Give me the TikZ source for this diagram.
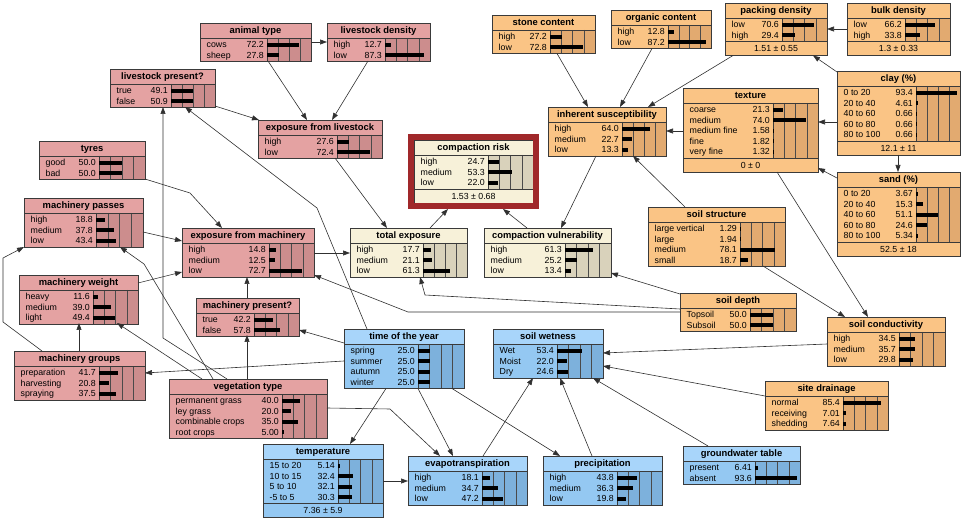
\documentclass[tikz,border=0pt]{standalone}
\usepackage{fontspec}
\setmainfont{Liberation Sans}
\usetikzlibrary{arrows.meta,calc}

\definecolor{pinkT}{HTML}{E4A2A2}
\definecolor{pinkB}{HTML}{E4A2A2}
\definecolor{pinkR}{HTML}{CC8D8D}
\definecolor{orangeT}{HTML}{FAC485}
\definecolor{orangeB}{HTML}{FAC485}
\definecolor{orangeR}{HTML}{E2AA70}
\definecolor{blueT}{HTML}{A8D5FA}
\definecolor{blueB}{HTML}{94C8F2}
\definecolor{blueR}{HTML}{7DB1DC}
\definecolor{creamT}{HTML}{F7F1D9}
\definecolor{creamB}{HTML}{F7F1D9}
\definecolor{creamR}{HTML}{D9D2BB}
\definecolor{bordc}{HTML}{3A3A3A}
\definecolor{gridc}{HTML}{4A4A4A}
\definecolor{edgec}{HTML}{303030}
\definecolor{riskc}{HTML}{A0282A}

\tikzset{
  bnborder/.style={draw=bordc, line width=0.6pt},
  gridline/.style={draw=gridc, line width=0.5pt},
  titletext/.style={font=\bfseries\fontsize{9.4}{10}\selectfont, inner sep=0pt},
  statetext/.style={font=\fontsize{8.8}{10}\selectfont, inner sep=0pt},
  bnframe/.style={draw=bordc, line width=0.7pt, inner sep=0pt, outer sep=0pt},
  arr/.style={draw=edgec, line width=0.6pt, -{Triangle[length=7pt,width=5pt]}},
  riskframe/.style={draw=riskc, line width=5.5pt},
}

% #1 name, #2 scheme, #3 x,y, #4 width, #5 bar offset, #6 nrows, #7 title, #8 rows, #9 mean
\newcommand{\bn}[9]{%
  \begingroup
  \def\bnmean{#9}%
  \ifx\bnmean\empty \def\bnextra{0}\else \def\bnextra{14}\fi
  \pgfmathsetmacro{\bnRB}{15+10.5*#6+2.5}%
  \pgfmathsetmacro{\bnH}{\bnRB+\bnextra}%
  \pgfmathsetmacro{\bnW}{#4}%
  \pgfmathsetmacro{\bnB}{#5}%
  \pgfmathsetmacro{\bnBW}{#4-#5}%
  \begin{scope}[shift={(#3)}]
    \fill[#2B] (0,0) rectangle (\bnW,\bnH);
    \fill[#2T] (0,0) rectangle (\bnW,15);
    \fill[#2R] (\bnB,15) rectangle (\bnW,\bnRB);
    \foreach \gf in {0.25,0.5,0.75}
      \draw[gridline] ({\bnB+\gf*\bnBW},15) -- ({\bnB+\gf*\bnBW},\bnRB);
    \draw[bnborder] (0,15) -- (\bnW,15);
    \draw[bnborder] (\bnB,15) -- (\bnB,\bnRB);
    \ifx\bnmean\empty\else
      \draw[bnborder] (0,\bnRB) -- (\bnW,\bnRB);
      \node[statetext, anchor=base] at ({\bnW/2},{\bnRB+10.3}) {#9};
    \fi
    \node[titletext, anchor=base] at ({\bnW/2},10.9) {#7};
    \foreach \sLab/\sVal [count=\sI] in {#8} {
      \pgfmathsetmacro{\yy}{15+1.5+10.5*(\sI-0.5)}
      \node[statetext, anchor=base west] at (6.5,\yy+3.2) {\sLab};
      \node[statetext, anchor=base east] at (\bnB-3,\yy+3.2) {\sVal};
      \fill[black] (\bnB,\yy-2.2) rectangle ({\bnB+\sVal/100*\bnBW},\yy+2.2);
    }
    \node[bnframe, minimum width=\bnW pt, minimum height=\bnH pt, anchor=north west] (#1) at (0,0) {};
  \end{scope}
  \endgroup
}

\begin{document}
\begin{tikzpicture}[x=1pt,y=-1pt]
\useasboundingbox (0,0) rectangle (964,521);

% pink nodes
\bn{animal}{pink}{200,23}{111}{67}{2}{animal type}{cows/72.2, sheep/27.8}{}
\bn{density}{pink}{327,23}{103}{58}{2}{livestock density}{high/12.7, low/87.3}{}
\bn{lpresent}{pink}{110,69}{105}{61}{2}{livestock present?}{true/49.1, false/50.9}{}
\bn{explive}{pink}{258,120}{124}{79}{2}{exposure from livestock}{high/27.6, low/72.4}{}
\bn{tyres}{pink}{39,141}{106}{60}{2}{tyres}{good/50.0, bad/50.0}{}
\bn{passes}{pink}{24,198}{119}{72}{3}{machinery passes}{high/18.8, medium/37.8, low/43.4}{}
\bn{expmach}{pink}{182,228}{132}{87}{3}{exposure from machinery}{high/14.8, medium/12.5, low/72.7}{}
\bn{weight}{pink}{19,275}{119}{74}{3}{machinery weight}{heavy/11.6, medium/39.0, light/49.4}{}
\bn{mpresent}{pink}{196,298}{103}{58}{2}{machinery present?}{true/42.2, false/57.8}{}
\bn{groups}{pink}{14,351}{131}{85}{3}{machinery groups}{preparation/41.7, harvesting/20.8, spraying/37.5}{}
\bn{veg}{pink}{169,379}{158}{113}{4}{vegetation type}{permanent grass/40.0, ley grass/20.0, combinable crops/35.0, root crops/5.00}{}

% blue nodes
\bn{tyear}{blue}{344,329}{120}{74}{4}{time of the year}{spring/25.0, summer/25.0, autumn/25.0, winter/25.0}{}
\bn{wetness}{blue}{493,329}{110}{64}{3}{soil wetness}{Wet/53.4, Moist/22.0, Dry/24.6}{}
\bn{temp}{blue}{263,444}{120}{75}{4}{temperature}{15 to 20/5.14, 10 to 15/32.4, 5 to 10/32.1, -5 to 5/30.3}{7.36 ± 5.9}
\bn{evapo}{blue}{408,456}{119}{74}{3}{evapotranspiration}{high/18.1, medium/34.7, low/47.2}{}
\bn{precip}{blue}{543,456}{119}{74}{3}{precipitation}{high/43.8, medium/36.3, low/19.8}{}
\bn{gwt}{blue}{683,446}{117}{72}{2}{groundwater table}{present/6.41, absent/93.6}{}

% orange nodes
\bn{drainage}{orange}{765,381}{123}{78}{3}{site drainage}{normal/85.4, receiving/7.01, shedding/7.64}{}
\bn{conduct}{orange}{827,317}{118}{72}{3}{soil conductivity}{high/34.5, medium/35.7, low/29.8}{}
\bn{depth}{orange}{680,293}{116}{70}{2}{soil depth}{Topsoil/50.0, Subsoil/50.0}{}
\bn{structure}{orange}{648,207}{137}{92}{4}{soil structure}{large vertical/1.29, large/1.94, medium/78.1, small/18.7}{}
\bn{sand}{orange}{837,172}{123}{79}{5}{sand (\%)}{0 to 20/3.67, 20 to 40/15.3, 40 to 60/51.1, 60 to 80/24.6, 80 to 100/5.34}{52.5 ± 18}
\bn{clay}{orange}{837,71}{123}{79}{5}{clay (\%)}{0 to 20/93.4, 20 to 40/4.61, 40 to 60/0.66, 60 to 80/0.66, 80 to 100/0.66}{12.1 ± 11}
\bn{texture}{orange}{683,88}{135}{90}{5}{texture}{coarse/21.3, medium/74.0, medium fine/1.58, fine/1.82, very fine/1.32}{0 ± 0}
\bn{inherent}{orange}{548,107}{118}{74}{3}{inherent susceptibility}{high/64.0, medium/22.7, low/13.3}{}
\bn{stone}{orange}{492,15}{103}{58}{2}{stone content}{high/27.2, low/72.8}{}
\bn{organic}{orange}{611,10}{100}{57}{2}{organic content}{high/12.8, low/87.2}{}
\bn{packing}{orange}{725,3}{102}{57}{2}{packing density}{low/70.6, high/29.4}{1.51 ± 0.55}
\bn{bulk}{orange}{847,3}{103}{58}{2}{bulk density}{low/66.2, high/33.8}{1.3 ± 0.33}

% cream nodes
\bn{totexp}{cream}{350,228}{117}{73}{3}{total exposure}{high/17.7, medium/21.1, low/61.3}{}
\bn{vuln}{cream}{484,228}{127}{81}{3}{compaction vulnerability}{high/61.3, medium/25.2, low/13.4}{}
\bn{risk}{cream}{414,140}{119}{74}{3}{compaction risk}{high/24.7, medium/53.3, low/22.0}{1.53 ± 0.68}
\draw[riskframe] ($(risk.north west)+(-3,-3)$) rectangle ($(risk.south east)+(3,3)$);

% bend points
\coordinate (b5) at (317,208);
\coordinate (b6) at (163,338);
\coordinate (b7) at (144,264);
\coordinate (b12a) at (3,322);
\coordinate (b12b) at (3,258);
\coordinate (b15) at (190,193);
\coordinate (b25) at (425,295);
\coordinate (b26) at (408,312);
\coordinate (b37) at (390,409);

% connectors
\draw[arr] ($(animal.north west)+(111,19)$) -- ($(density.north west)+(0,19)$);
\draw[arr] ($(animal.north west)+(68,38)$) -- ($(explive.north west)+(49,0)$);
\draw[arr] ($(density.north west)+(41,38)$) -- ($(explive.north west)+(74,0)$);
\draw[arr] ($(lpresent.north west)+(105,37)$) -- ($(explive.north west)+(1,0)$);
\draw[arr] ($(tyear.north west)+(23,0)$) -- (b5) -- ($(lpresent.north west)+(75,38)$);
\draw[arr] ($(veg.north west)+(58,0)$) -- (b6) -- ($(lpresent.north west)+(53,38)$);
\draw[arr] ($(veg.north west)+(44,0)$) -- (b7) -- ($(passes.north west)+(96,49)$);
\draw[arr] ($(veg.north west)+(33,0)$) -- ($(weight.north west)+(98,48)$);
\draw[arr] ($(veg.north west)+(78,0)$) -- ($(mpresent.north west)+(51,37)$);
\draw[arr] ($(mpresent.north west)+(51,0)$) -- ($(expmach.north west)+(65,49)$);
\draw[arr] ($(groups.north west)+(65,0)$) -- ($(weight.north west)+(60,48)$);
\draw[arr] ($(groups.north west)+(28,0)$) -- (b12a) -- (b12b) -- ($(passes.north west)+(0,49)$);
\draw[arr] ($(tyear.north west)+(0,14)$) -- ($(mpresent.north west)+(103,32)$);
\draw[arr] ($(tyear.north west)+(0,32)$) -- ($(groups.north west)+(131,22)$);
\draw[arr] ($(tyres.north west)+(106,38)$) -- (b15) -- ($(expmach.north west)+(40,0)$);
\draw[arr] ($(passes.north west)+(119,34)$) -- ($(expmach.north west)+(0,13)$);
\draw[arr] ($(weight.north west)+(119,8)$) -- ($(expmach.north west)+(0,44)$);
\draw[arr] ($(explive.north west)+(77,38)$) -- ($(totexp.north west)+(37,0)$);
\draw[arr] ($(expmach.north west)+(132,25)$) -- ($(totexp.north west)+(0,25)$);
\draw[arr] ($(totexp.north west)+(80,0)$) -- ($(risk.north west)+(34,69)$);
\draw[arr] ($(vuln.north west)+(43,0)$) -- ($(risk.north west)+(89,69)$);
\draw[arr] ($(inherent.north west)+(48,49)$) -- ($(vuln.north west)+(77,0)$);
\draw[arr] ($(structure.north west)+(37,0)$) -- ($(inherent.north west)+(85,49)$);
\draw[arr] ($(depth.north west)+(0,1)$) -- ($(vuln.north west)+(127,45)$);
\draw[arr] ($(depth.north west)+(0,16)$) -- (b25) -- ($(totexp.north west)+(70,49)$);
\draw[arr] ($(depth.north west)+(0,19)$) -- (b26) -- ($(expmach.north west)+(132,47)$);
\draw[arr] ($(structure.north west)+(115,59)$) -- ($(conduct.north west)+(18,0)$);
\draw[arr] ($(texture.north west)+(94,84)$) -- ($(conduct.north west)+(41,0)$);
\draw[arr] ($(conduct.north west)+(0,27)$) -- ($(wetness.north west)+(110,24)$);
\draw[arr] ($(drainage.north west)+(0,15)$) -- ($(wetness.north west)+(110,37)$);
\draw[arr] ($(gwt.north west)+(25,0)$) -- ($(wetness.north west)+(100,49)$);
\draw[arr] ($(precip.north west)+(49,0)$) -- ($(wetness.north west)+(67,49)$);
\draw[arr] ($(evapo.north west)+(75,0)$) -- ($(wetness.north west)+(40,49)$);
\draw[arr] ($(tyear.north west)+(42,59.5)$) -- ($(temp.north west)+(87,0)$);
\draw[arr] ($(tyear.north west)+(74,59.5)$) -- ($(evapo.north west)+(45,0)$);
\draw[arr] ($(tyear.north west)+(108,59.5)$) -- ($(precip.north west)+(17,0)$);
\draw[arr] ($(veg.north west)+(158,29)$) -- (b37) -- ($(evapo.north west)+(32,0)$);
\draw[arr] ($(temp.north west)+(120,37)$) -- ($(evapo.north west)+(0,25)$);
\draw[arr] ($(clay.north west)+(0,1)$) -- ($(packing.north west)+(88,52.5)$);
\draw[arr] ($(bulk.north west)+(0,26)$) -- ($(packing.north west)+(102,26)$);
\draw[arr] ($(packing.north west)+(8,52.5)$) -- ($(inherent.north west)+(100,0)$);
\draw[arr] ($(stone.north west)+(65,38.5)$) -- ($(inherent.north west)+(40,0)$);
\draw[arr] ($(organic.north west)+(41,38.5)$) -- ($(inherent.north west)+(72,0)$);
\draw[arr] ($(texture.north west)+(0,43)$) -- ($(inherent.north west)+(118,24)$);
\draw[arr] ($(clay.north west)+(0,51)$) -- ($(texture.north west)+(135,34)$);
\draw[arr] ($(clay.north west)+(61,84)$) -- ($(sand.north west)+(61,0)$);
\draw[arr] ($(sand.north west)+(0,6)$) -- ($(texture.north west)+(135,80)$);
\end{tikzpicture}
\end{document}
